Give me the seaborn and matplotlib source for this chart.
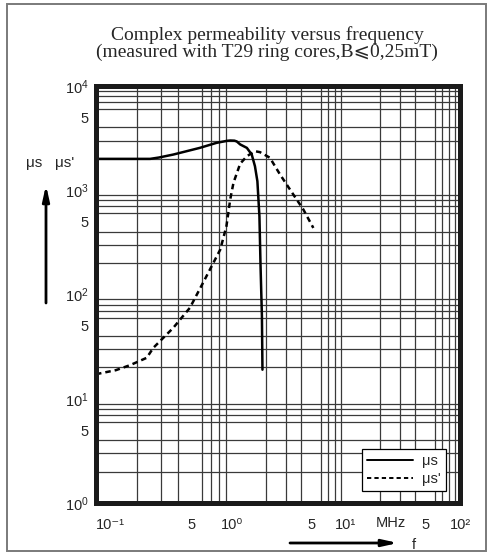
"""
Complex permeability versus frequency, redrawn with seaborn.
"""

import numpy as np
import pandas as pd
import matplotlib

matplotlib.use("Agg")
import matplotlib.pyplot as plt  # noqa: E402
from matplotlib.ticker import FixedLocator, NullFormatter  # noqa: E402
from matplotlib.patches import Rectangle  # noqa: E402
import seaborn as sns  # noqa: E402

# --- data (frequency in MHz) ---
freq_mus = [0.1, 0.25, 0.29, 0.37, 0.58, 0.77, 0.92, 0.97, 1.05, 1.10, 1.18,
            1.35, 1.49, 1.59, 1.67, 1.74, 1.78, 1.83, 1.85]
mus = [2000, 2000, 2060, 2200, 2550, 2850, 2980, 3000, 2990, 2940, 2750,
       2550, 2200, 1700, 1220, 564, 187, 62, 19]

freq_mus2 = [0.1, 0.14, 0.178, 0.236, 0.264, 0.37, 0.49, 0.63, 0.82, 0.91,
             0.97, 1.03, 1.18, 1.35, 1.59, 1.76, 2.15, 2.64, 3.45, 4.22, 5.17]
mus2 = [17.2, 18.8, 21, 24.7, 30.8, 47.9, 74.5, 139, 270, 452,
        816, 1178, 1800, 2120, 2370, 2320, 2050, 1415, 910, 655, 435]

x_ticks = [0.1, 0.5, 1, 5, 10, 50, 100]
x_labels = ["10\u207b\u00b9", "5", "10\u2070", "5", "10\u00b9", "5", "10\u00b2"]
y_ticks = [1, 5, 10, 50, 100, 500, 1000, 5000, 10000]
y_labels = ["$10^{0}$", "5", "$10^{1}$", "5", "$10^{2}$", "5", "$10^{3}$", "5", "$10^{4}$"]

grid_x = [m * 10.0 ** e for e in (-1, 0, 1) for m in range(1, 10)] + [100]
grid_y = [m * 10.0 ** e for e in (0, 1, 2, 3) for m in range(1, 10)] + [10000]


# the printed chart has a wider first decade than the other two
def fwd(x):
    lx = np.log10(np.clip(x, 1e-12, None))
    return np.where(lx < 0, 136 * (lx + 1), 136 + 114 * lx)


def inv(p):
    p = np.asarray(p, dtype=float)
    return 10.0 ** np.where(p < 136, p / 136 - 1, (p - 136) / 114)


def main():
    sns.set_style("white")
    plt.rcParams["font.family"] = ["Liberation Sans", "DejaVu Sans"]
    plt.rcParams["mathtext.fontset"] = "custom"
    plt.rcParams["mathtext.rm"] = "Liberation Sans"
    plt.rcParams["mathtext.default"] = "regular"

    df1 = pd.DataFrame({"f": freq_mus, "mu": mus})
    df2 = pd.DataFrame({"f": freq_mus2, "mu": mus2})

    fig = plt.figure(figsize=(4.94, 5.55), dpi=100)
    W, H = 494, 555
    ax = fig.add_axes([96 / W, 1 - 503 / H, 364 / W, 417 / H])

    ax.set_xscale("function", functions=(fwd, inv))
    ax.set_yscale("log")
    ax.set_xlim(0.1, 100)
    ax.set_ylim(1, 10000)

    sns.lineplot(data=df1, x="f", y="mu", ax=ax, color="black", lw=1.8,
                 sort=False, estimator=None, label="\u03bcs")
    sns.lineplot(data=df2, x="f", y="mu", ax=ax, color="black", lw=1.8,
                 sort=False, estimator=None, label="\u03bcs'",
                 linestyle=(0, (2.2, 1.6)))

    ax.xaxis.set_major_locator(FixedLocator(x_ticks))
    ax.set_xticklabels(x_labels, fontsize=10.5)
    ax.xaxis.set_minor_locator(FixedLocator(grid_x))
    ax.xaxis.set_minor_formatter(NullFormatter())
    ax.yaxis.set_major_locator(FixedLocator(y_ticks))
    ax.set_yticklabels(y_labels, fontsize=10.5)
    ax.yaxis.set_minor_locator(FixedLocator(grid_y))
    ax.yaxis.set_minor_formatter(NullFormatter())
    ax.get_xticklabels()[0].set_horizontalalignment("left")

    ax.tick_params(which="both", length=0)
    ax.tick_params(axis="x", pad=11)
    ax.tick_params(axis="y", pad=5)
    ax.grid(False, which="major")
    ax.grid(True, which="minor", color="#3a3a3a", lw=0.9)
    for sp in ax.spines.values():
        sp.set_linewidth(3.6)
        sp.set_color("#1a1a1a")
        sp.set_zorder(5)
    ax.set_xlabel("")
    ax.set_ylabel("")

    leg = ax.legend(loc="lower right", bbox_to_anchor=(446 / W, 1 - 491 / H),
                    bbox_transform=fig.transFigure, borderaxespad=0,
                    fontsize=10.5, handlelength=3.2, fancybox=False,
                    framealpha=1, edgecolor="black", borderpad=0.35,
                    labelspacing=0.25, handletextpad=0.6)
    leg.get_frame().set_linewidth(0.9)
    for line in leg.get_lines():
        line.set_linewidth(1.4)

    # MHz unit sits among the x tick labels
    ax.text(25, -0.048, "MHz", transform=ax.get_xaxis_transform(),
            ha="center", va="center", fontsize=10.5)

    serif = ["Liberation Serif", "DejaVu Serif", "DejaVu Sans"]
    fig.text(267 / W, 1 - 35 / H, "Complex permeability versus frequency",
             ha="center", va="center", fontsize=14, family=serif)
    fig.text(267 / W, 1 - 52 / H, "(measured with T29 ring cores,B\u2a7d0,25mT)",
             ha="center", va="center", fontsize=14, family=serif)

    fig.text(50 / W, 1 - 163 / H, "\u03bcs   \u03bcs'", ha="center", va="center",
             fontsize=11)
    ax.annotate("", xy=(46 / W, 1 - 185 / H), xytext=(46 / W, 1 - 303 / H),
                xycoords="figure fraction", textcoords="figure fraction",
                arrowprops=dict(arrowstyle="-|>,head_length=0.9,head_width=0.2",
                                lw=2, color="black", shrinkA=0, shrinkB=0))
    ax.annotate("", xy=(398 / W, 1 - 543 / H), xytext=(290 / W, 1 - 543 / H),
                xycoords="figure fraction", textcoords="figure fraction",
                arrowprops=dict(arrowstyle="-|>,head_length=0.9,head_width=0.2",
                                lw=2, color="black", shrinkA=0, shrinkB=0))
    fig.text(414 / W, 1 - 545 / H, "f", ha="center", va="center", fontsize=10.5)

    # outer frame of the printed figure
    fig.patches.append(Rectangle((7 / W, 1 - 551 / H), 479 / W, 547 / H,
                                 transform=fig.transFigure, fill=False,
                                 edgecolor="#7a7a7a", lw=1.4))

    fig.savefig("out.png", dpi=100)
    plt.close(fig)


if __name__ == "__main__":
    main()
